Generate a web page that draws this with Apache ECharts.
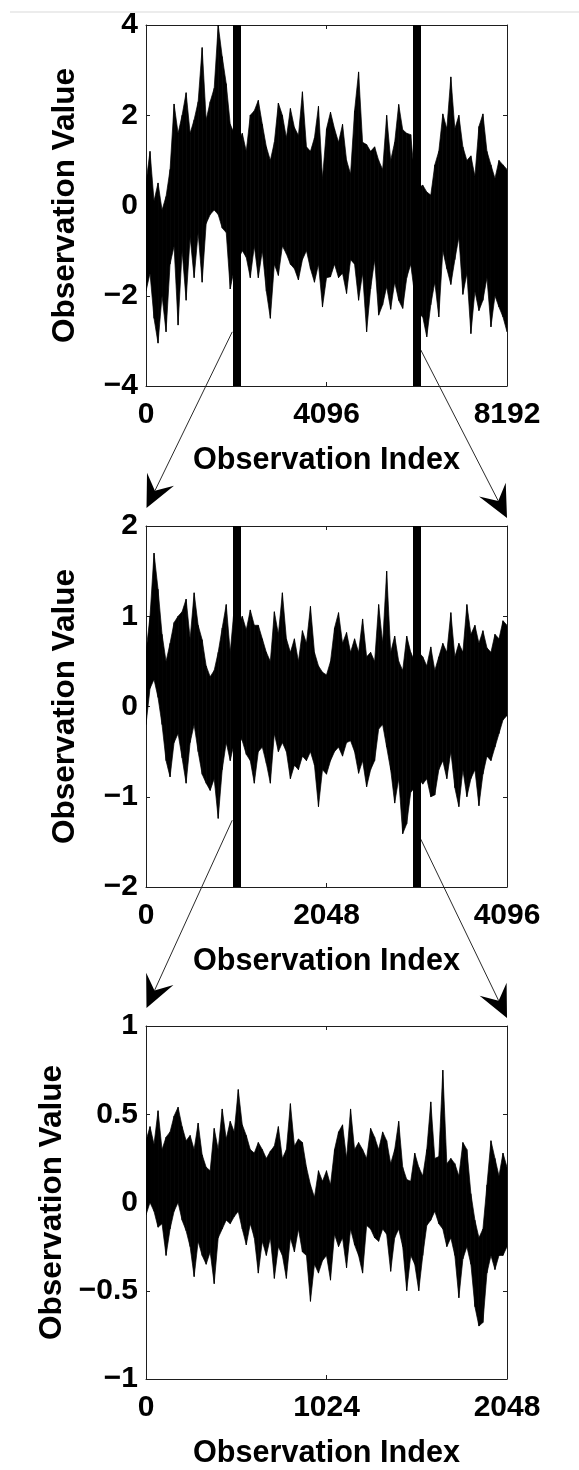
<!DOCTYPE html>
<html>
<head>
<meta charset="utf-8">
<script src="https://cdn.jsdelivr.net/npm/echarts@6.0.0/dist/echarts.min.js"></script>
<style>
  html, body { margin: 0; padding: 0; background: #ffffff; }
  #chart { width: 579px; height: 1470px; }
</style>
</head>
<body>
<div id="chart"></div>
<script>
// Observation series, down-sampled with a fixed stride: the highest and the
// lowest observation inside each stride window.
const fullPeaks = [
  0.5, 1.2, 0.1, 0.5, -0.1, 0.2, 0.8, 2.25, 1.6, 2.0,
  2.5, 1.6, 1.9, 2.3, 3.5, 1.9, 2.3, 2.6, 4.0, 3.3,
  2.7, 1.8, 1.6, 1.4, 1.6, 1.2, 2.0, 2.1, 2.33, 1.8,
  1.3, 1.0, 1.4, 2.27, 2.0, 1.5, 2.15, 1.73, 1.55, 2.52,
  1.3, 1.2, 1.5, 2.2, 0.6, 1.7, 2.07, 1.7, 1.4, 1.8,
  1.0, 0.7, 2.1, 2.96, 1.4, 1.35, 1.2, 1.3, 1.0, 0.8,
  2.0, 1.0, 1.4, 2.24, 1.68, 1.6, 1.57, 0.6, 0.4, 0.45,
  0.3, 0.23, 0.9, 1.2, 2.03, 1.7, 2.85, 1.7, 2.0, 1.3,
  1.0, 1.1, 0.65, 1.75, 2.03, 1.2, 0.9, 0.6, 1.0, 0.9,
  0.8
];
const fullTroughs = [
  -1.9, -1.5, -2.5, -3.05, -2.0, -2.8, -1.3, -0.9, -2.65, -1.0,
  -2.1, -0.7, -1.6, -0.6, -1.7, -0.4, -0.2, -0.1, -0.2, -0.5,
  -0.6, -1.85, -1.4, -1.2, -1.0, -1.15, -1.6, -0.9, -1.6, -1.0,
  -1.9, -2.5, -1.3, -1.55, -0.9, -1.07, -1.3, -1.4, -1.65, -1.2,
  -1.0, -1.4, -1.7, -1.3, -2.25, -1.6, -1.58, -1.3, -1.6, -1.5,
  -1.95, -1.2, -1.3, -2.1, -1.5, -2.8, -1.85, -1.2, -2.43, -2.2,
  -1.8, -2.3, -1.7, -2.1, -2.28, -1.6, -1.3, -2.0, -2.4, -2.47,
  -2.91, -2.2, -1.7, -2.47, -1.0, -1.4, -1.75, -1.2, -0.7, -1.97,
  -1.5, -2.84, -1.9, -2.33, -2.1, -1.6, -2.69, -2.0, -2.25, -2.47,
  -2.8
];
const halfPeaks = [
  0.6, 1.0, 1.7, 1.3, 0.8, 0.5, 0.7, 0.93, 1.0, 1.05,
  1.19, 0.75, 1.26, 0.9, 0.74, 0.45, 0.33, 0.4, 0.6, 0.87,
  1.13, 0.6, 1.1, 0.9, 1.0, 0.85, 1.07, 0.9, 0.9, 0.75,
  0.6, 0.5, 1.05, 0.8, 1.26, 0.75, 0.6, 0.75, 0.5, 0.84,
  0.7, 1.11, 0.6, 0.45, 0.38, 0.35, 0.5, 0.87, 1.04, 0.7,
  0.82, 0.6, 0.75, 0.6, 0.97, 0.55, 0.6, 0.5, 1.13, 0.7,
  1.5, 0.6, 0.78, 0.5, 0.4, 0.78, 0.6, 0.5, 0.6, 0.55,
  0.45, 0.66, 0.4, 0.55, 0.7, 0.6, 1.04, 0.55, 0.7, 0.6,
  1.13, 0.8, 0.9, 0.7, 0.84, 0.65, 0.6, 0.8, 0.75, 0.95,
  0.9
];
const halfTroughs = [
  -0.2, 0.2, 0.3, 0.1, -0.2, -0.6, -0.78, -0.4, -0.3, -0.57,
  -0.85, -0.4, -0.2, -0.5, -0.75, -0.85, -0.93, -0.8, -1.24, -0.7,
  -0.4, -0.6, -0.4, -0.3, -0.38, -0.53, -0.6, -0.85, -0.5, -0.45,
  -0.63, -0.85, -0.3, -0.5, -0.4, -0.5, -0.8, -0.65, -0.7, -0.55,
  -0.6, -0.5, -0.65, -1.11, -0.7, -0.75, -0.6, -0.5, -0.45, -0.55,
  -0.4, -0.38, -0.5, -0.74, -0.6, -0.89, -0.7, -0.6, -0.25, -0.2,
  -0.45, -0.7, -1.07, -0.8, -1.41, -1.3, -0.95, -0.9, -0.8, -0.86,
  -0.8, -1.0, -0.98, -0.7, -0.6, -0.8, -0.5, -0.9, -1.11, -0.7,
  -1.0, -0.8, -0.7, -1.1, -0.75, -0.55, -0.6, -0.45, -0.3, -0.15,
  -0.1
];
const quarterPeaks = [
  0.35, 0.43, 0.33, 0.52, 0.3, 0.37, 0.4, 0.49, 0.54, 0.43,
  0.35, 0.38, 0.3, 0.45, 0.27, 0.2, 0.18, 0.42, 0.3, 0.53,
  0.36, 0.46, 0.4, 0.64, 0.44, 0.38, 0.3, 0.28, 0.34, 0.3,
  0.25, 0.29, 0.32, 0.43, 0.25, 0.3, 0.56, 0.32, 0.36, 0.34,
  0.2, 0.1, 0.03, 0.18, 0.12, 0.18, 0.1, 0.3, 0.4, 0.44,
  0.25, 0.53, 0.3, 0.34, 0.3, 0.25, 0.42, 0.37, 0.3, 0.4,
  0.35, 0.22, 0.3, 0.46, 0.2, 0.13, 0.12, 0.28, 0.2, 0.15,
  0.3, 0.57, 0.25, 0.26, 0.75, 0.22, 0.25, 0.22, 0.15, 0.34,
  0.3, 0.05, -0.1, -0.2, -0.15, 0.1, 0.35, 0.25, 0.15, 0.28,
  0.2
];
const quarterTroughs = [
  -0.07, 0.0, -0.05, -0.14, -0.12, -0.3, -0.15, -0.05, 0.0, -0.1,
  -0.16, -0.25, -0.42, -0.22, -0.3, -0.35, -0.28, -0.46, -0.2, -0.15,
  -0.1, -0.12, -0.08, -0.05, -0.15, -0.24, -0.12, -0.2, -0.4, -0.22,
  -0.3, -0.2, -0.43, -0.25, -0.3, -0.43, -0.2, -0.28, -0.15, -0.28,
  -0.3, -0.56, -0.35, -0.4, -0.33, -0.3, -0.44, -0.18, -0.25, -0.2,
  -0.37, -0.15, -0.24, -0.3, -0.4, -0.13, -0.15, -0.2, -0.22, -0.15,
  -0.18, -0.39, -0.2, -0.15, -0.25, -0.5, -0.3, -0.35, -0.5, -0.3,
  -0.13, -0.1, -0.05, -0.12, -0.15, -0.25, -0.2, -0.3, -0.54, -0.32,
  -0.25, -0.35, -0.59, -0.7, -0.68, -0.4, -0.3, -0.38, -0.3, -0.3,
  -0.25
];

// Index range of each panel and its x ticks
const indexMax = [8192, 4096, 2048];
const xTicks = [[0, 4096, 8192], [0, 2048, 4096], [0, 1024, 2048]];
// Value range and y ticks of each panel
const yRange = [[-4, 4], [-2, 2], [-1, 1]];
const yStep = [2, 1, 0.5];
// Window that is enlarged in the next panel (start, end index)
const zoomWindow = [[2048, 6144], [1024, 3072]];
// Value at which each connector leaves its window marker
const connectorFoot = [[-2.8, -3.2], [-1.26, -1.47]];

const peaksList = [fullPeaks, halfPeaks, quarterPeaks];
const troughsList = [fullTroughs, halfTroughs, quarterTroughs];
const FONT = '"Liberation Sans", Arial, Helvetica, sans-serif';
const INK = '#000000';
const FRAME = '#1e1e1e';
const panelTop = [25, 526, 1026];
const panelLeft = 146, panelW = 361, panelH = 361;

const tickText = { color: INK, fontSize: 30, fontWeight: 'bold', fontFamily: FONT };
const xNameText = { color: INK, fontSize: 30.6, fontWeight: 'bold', fontFamily: FONT };
const yNameText = { color: INK, fontSize: 31.5, fontWeight: 'bold', fontFamily: FONT };
const signed = v => (v < 0 ? '\u2212' + String(-v) : String(v));

// One quadrilateral per stride window: peak/trough here to peak/trough at the next window
function renderBand(params, api) {
  const a = api.coord([api.value(0), api.value(1)]);
  const b = api.coord([api.value(3), api.value(4)]);
  const c = api.coord([api.value(3), api.value(5)]);
  const d = api.coord([api.value(0), api.value(2)]);
  return {
    type: 'polygon',
    shape: { points: [a, b, c, d] },
    style: { fill: INK, stroke: INK, lineWidth: 0.7 }
  };
}

const grids = [], xAxes = [], yAxes = [], series = [];
for (let p = 0; p < 3; p++) {
  grids.push({ left: panelLeft, top: panelTop[p], width: panelW, height: panelH });
  const xm = indexMax[p];
  const xi = xTicks[p][1] - xTicks[p][0];
  const common = { type: 'value', gridIndex: p, splitLine: { show: false },
    axisLine: { onZero: false, lineStyle: { color: FRAME, width: 1 } },
    axisTick: { inside: true, length: 4, lineStyle: { color: FRAME, width: 1 } } };
  xAxes.push(Object.assign({}, common, {
    position: 'bottom', min: 0, max: xm, interval: xi,
    axisLabel: Object.assign({ margin: 14, showMinLabel: true, showMaxLabel: true,
      formatter: v => String(v) }, tickText),
    name: 'Observation Index', nameLocation: 'middle', nameGap: 59,
    nameTextStyle: Object.assign({}, xNameText)
  }));
  xAxes.push(Object.assign({}, common, {
    position: 'top', min: 0, max: xm, interval: xi, axisLabel: { show: false }
  }));
  const [ymin, ymax] = yRange[p];
  yAxes.push(Object.assign({}, common, {
    position: 'left', min: ymin, max: ymax, interval: yStep[p],
    axisLabel: Object.assign({ margin: 8, showMinLabel: true, showMaxLabel: true,
      formatter: signed }, tickText),
    name: 'Observation Value', nameLocation: 'middle', nameGap: 65, nameRotate: 90,
    nameTextStyle: Object.assign({}, yNameText)
  }));
  yAxes.push(Object.assign({}, common, {
    position: 'right', min: ymin, max: ymax, interval: yStep[p], axisLabel: { show: false }
  }));

  const peaks = peaksList[p], troughs = troughsList[p];
  const stride = xm / (peaks.length - 1);
  const windows = [];
  for (let i = 0; i + 1 < peaks.length; i++) {
    windows.push([i * stride, peaks[i], troughs[i], (i + 1) * stride, peaks[i + 1], troughs[i + 1]]);
  }
  series.push({
    type: 'custom', xAxisIndex: 2 * p, yAxisIndex: 2 * p,
    data: windows, renderItem: renderBand, clip: true, silent: true,
    encode: { x: [0, 3], y: [1, 2, 4, 5] }
  });
  // thick markers of the window enlarged below
  series.push({
    type: 'line', xAxisIndex: 2 * p, yAxisIndex: 2 * p, data: [], silent: true,
    markLine: p < 2 ? {
      silent: true, symbol: 'none', label: { show: false },
      lineStyle: { color: INK, width: 8, type: 'solid' },
      data: zoomWindow[p].map(x => ({ xAxis: x }))
    } : undefined
  });
}

const chart = echarts.init(document.getElementById('chart'), null, { renderer: 'canvas' });
chart.setOption({
  animation: false,
  backgroundColor: '#ffffff',
  grid: grids, xAxis: xAxes, yAxis: yAxes, series: series
});

// Connector arrows from each window marker down to the corners of the next panel
function arrowParts(from, to, L, W) {
  const dx = to[0] - from[0], dy = to[1] - from[1];
  const len = Math.hypot(dx, dy), ux = dx / len, uy = dy / len, nx = -uy, ny = ux;
  const base = [to[0] - L * ux, to[1] - L * uy];
  const notch = [to[0] - 0.6 * L * ux, to[1] - 0.6 * L * uy];
  return [
    { type: 'line', silent: true, shape: { x1: from[0], y1: from[1], x2: notch[0], y2: notch[1] },
      style: { stroke: '#2a2a2a', lineWidth: 1 } },
    { type: 'polygon', silent: true,
      shape: { points: [to, [base[0] + W / 2 * nx, base[1] + W / 2 * ny], notch, [base[0] - W / 2 * nx, base[1] - W / 2 * ny]] },
      style: { fill: INK } }
  ];
}

const graphics = [
  { type: 'rect', silent: true, shape: { x: 10, y: 11, width: 569, height: 2 }, style: { fill: '#ececec' } }
];
for (let p = 0; p < 2; p++) {
  const [a, b] = zoomWindow[p];
  const [yA, yB] = connectorFoot[p];
  const left = chart.convertToPixel({ gridIndex: p }, [a, yA]);
  const right = chart.convertToPixel({ gridIndex: p }, [b, yB]);
  left[0] -= 4; right[0] += 4;
  const nx = indexMax[p + 1], ny = yRange[p + 1][1];
  const tl = chart.convertToPixel({ gridIndex: p + 1 }, [0, ny]);
  const tr = chart.convertToPixel({ gridIndex: p + 1 }, [nx, ny]);
  const tipL = [tl[0] + 0.5, tl[1] - 18];
  const tipR = [tr[0], tr[1] - 8];
  graphics.push(...arrowParts(left, tipL, 32, 30));
  graphics.push(...arrowParts(right, tipR, 32, 30));
}
chart.setOption({ graphic: graphics });
</script>
</body>
</html>
